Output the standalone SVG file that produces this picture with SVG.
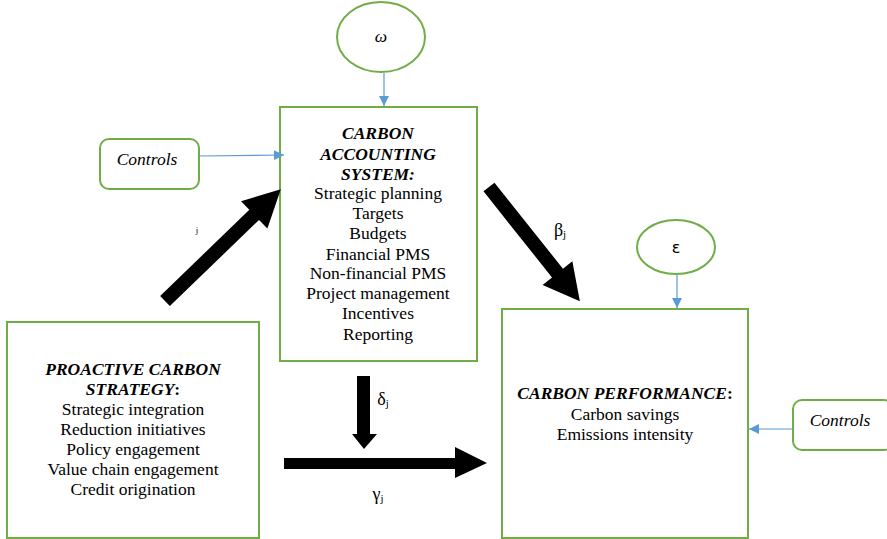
<svg xmlns="http://www.w3.org/2000/svg" width="887" height="539" viewBox="0 0 887 539">
<defs>
<style>
.box{fill:#fff;stroke:#70AD47;stroke-width:2}
.t{font-family:"Liberation Serif","Times New Roman","DejaVu Serif",serif;font-size:17.5px;fill:#000;text-anchor:middle}
.bi{font-weight:bold;font-style:italic}
.i{font-style:italic}
.thin{stroke:#5B9BD5;stroke-width:1.2;fill:none}
.big{fill:#000}
.g{font-family:"Liberation Serif","Times New Roman",serif;font-size:18px;text-anchor:middle}
</style>
<marker id="ah" viewBox="0 0 10 10" refX="10" refY="5" markerWidth="10" markerHeight="10" markerUnits="userSpaceOnUse" orient="auto">
<path d="M0,0 L10,5 L0,10 z" fill="#5B9BD5"/>
</marker>
</defs>
<rect width="887" height="539" fill="#fff"/>

<g id="omega">
<ellipse class="box" cx="381" cy="37" rx="44" ry="35"/>
<text class="t i" x="381" y="42">ω</text>
</g>

<g id="cas">
<rect class="box" x="280" y="107" width="197" height="254"/>
<text class="t bi" x="378" y="139">CARBON</text>
<text class="t bi" x="378" y="160">ACCOUNTING</text>
<text class="t bi" x="378" y="180">SYSTEM:</text>
<text class="t" x="378" y="199">Strategic planning</text>
<text class="t" x="378" y="219">Targets</text>
<text class="t" x="378" y="239">Budgets</text>
<text class="t" x="378" y="260">Financial PMS</text>
<text class="t" x="378" y="279">Non-financial PMS</text>
<text class="t" x="378" y="299">Project management</text>
<text class="t" x="378" y="319">Incentives</text>
<text class="t" x="378" y="340">Reporting</text>
</g>

<g id="controls-left">
<rect class="box" x="100" y="139" width="99" height="50" rx="9"/>
<text class="t i" x="147" y="165">Controls</text>
</g>

<g id="pcs">
<rect class="box" x="7" y="322" width="252" height="216"/>
<text class="t bi" x="133" y="375">PROACTIVE CARBON</text>
<text class="t" x="133" y="395"><tspan class="bi">STRATEGY</tspan><tspan font-weight="bold">:</tspan></text>
<text class="t" x="133" y="415">Strategic integration</text>
<text class="t" x="133" y="435">Reduction initiatives</text>
<text class="t" x="133" y="455">Policy engagement</text>
<text class="t" x="133" y="475">Value chain engagement</text>
<text class="t" x="133" y="495">Credit origination</text>
</g>

<g id="epsilon">
<ellipse class="box" cx="676" cy="247" rx="39" ry="27"/>
<text x="676" y="253" font-family="DejaVu Sans, sans-serif" font-size="16" text-anchor="middle">ε</text>
</g>

<g id="cp">
<rect class="box" x="502" y="309" width="246" height="229"/>
<text class="t" x="625" y="399"><tspan class="bi">CARBON PERFORMANCE</tspan><tspan font-weight="bold">:</tspan></text>
<text class="t" x="625" y="420">Carbon savings</text>
<text class="t" x="625" y="440">Emissions intensity</text>
</g>

<g id="controls-right">
<rect class="box" x="793" y="400" width="100" height="50" rx="9"/>
<text class="t i" x="840" y="426">Controls</text>
</g>

<g id="connectors">
<line class="thin" x1="384" y1="73" x2="384" y2="106" marker-end="url(#ah)"/>
<line class="thin" x1="199" y1="156" x2="284" y2="155" marker-end="url(#ah)"/>
<line class="thin" x1="677" y1="275" x2="677" y2="308" marker-end="url(#ah)"/>
<line class="thin" x1="793" y1="429" x2="749" y2="429" marker-end="url(#ah)"/>
<polygon class="big" transform="translate(165,301) rotate(-44)" points="0,-7 124,-7 124,-19 161,0 124,19 124,7 0,7"/>
<polygon class="big" transform="translate(489,187) rotate(51.5)" points="0,-7 110,-7 110,-19 146,0 110,19 110,7 0,7"/>
<polygon class="big" points="357,376 370,376 370,434 377,434 364,449 352,434 357,434"/>
<polygon class="big" points="284,458 455,458 455,447 487,463 455,478 455,469 284,469"/>
<text x="197" y="233" font-family="Liberation Serif, serif" font-size="9" text-anchor="middle">j</text>
<text class="g" x="560" y="236">β<tspan font-size="11" dy="2">j</tspan></text>
<text class="g" x="383" y="405">δ<tspan font-size="11" dy="2">j</tspan></text>
<text class="g" x="378" y="500">γ<tspan font-size="11" dy="2">j</tspan></text>
</g>
</svg>
